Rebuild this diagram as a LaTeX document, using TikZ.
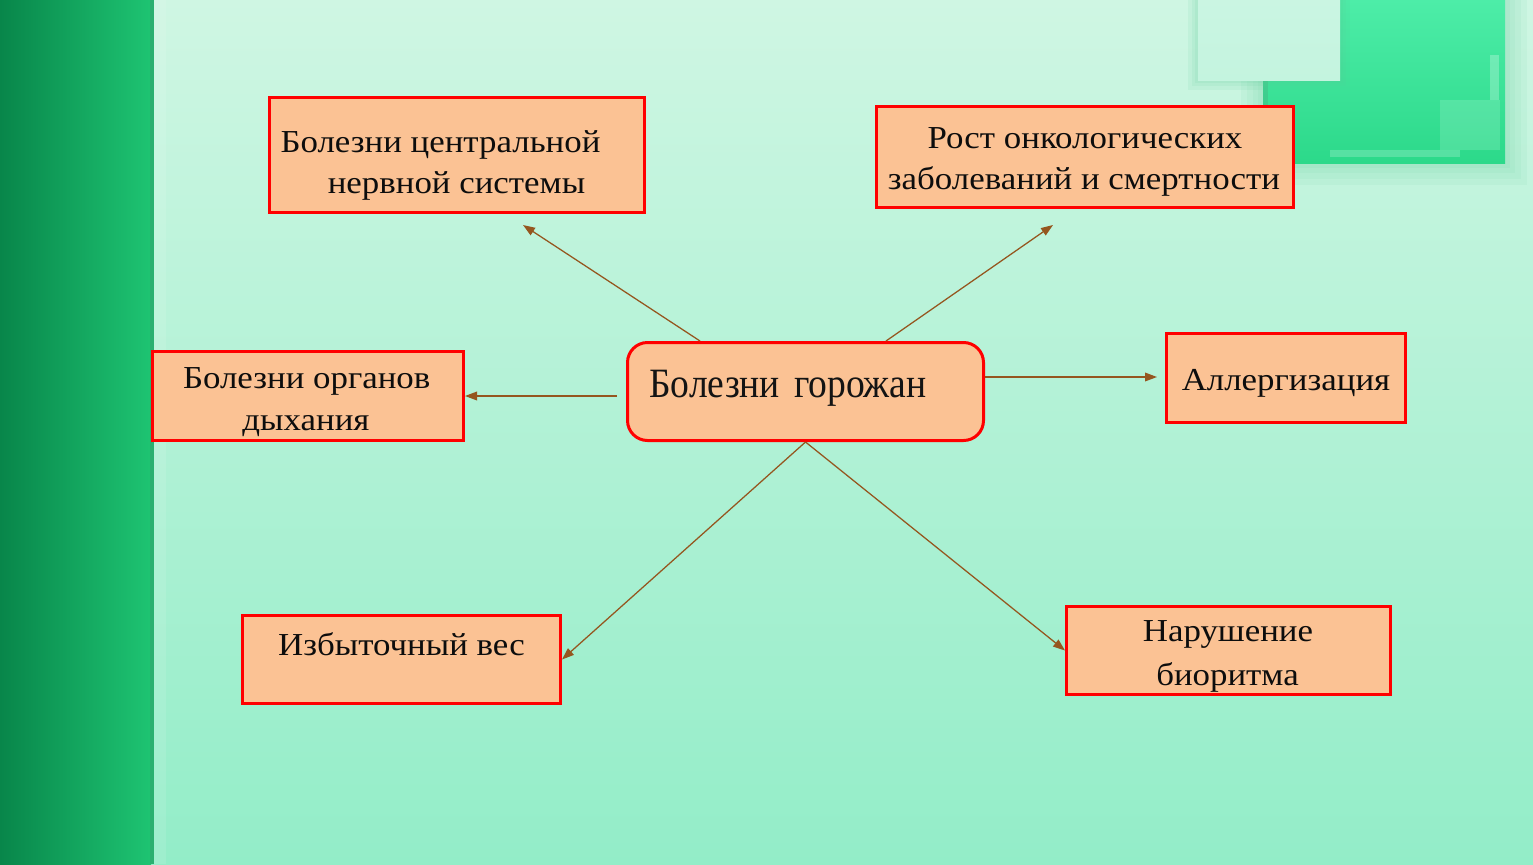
\documentclass[tikz,border=0pt]{standalone}
\usepackage{fontspec}
\setmainfont{Liberation Serif}
\newfontfamily\boxfont[FakeStretch=1.09]{Liberation Serif}
\newfontfamily\centfont[FakeStretch=0.9]{Liberation Serif}
\usetikzlibrary{arrows.meta,calc}
\definecolor{bgtop}{HTML}{CFF6E3}
\definecolor{bgbot}{HTML}{93EDC8}
\definecolor{bandl}{HTML}{08864A}
\definecolor{bandr}{HTML}{1EC472}
\definecolor{bandedge}{HTML}{2AB070}
\definecolor{peach}{HTML}{FBC294}
\definecolor{boxred}{HTML}{FF0000}
\definecolor{arrbrown}{HTML}{95561F}
\definecolor{gtop}{HTML}{4DEDA8}
\definecolor{gbot}{HTML}{2CD98A}
\definecolor{glight}{HTML}{C4F4DF}
\definecolor{glow}{HTML}{5CCB98}
\tikzset{
  box/.style={draw=boxred, fill=peach, line width=2.25pt, rectangle, inner sep=0pt},
  cbox/.style={box, rounded corners=15pt},
  txt/.style={font=\boxfont\fontsize{24}{24}\selectfont, inner sep=0pt, anchor=base, text=black!95},
  ctxt/.style={font=\centfont\fontsize{31.3}{31.3}\selectfont, inner sep=0pt, anchor=base, text=black!92},
  arr/.style={draw=arrbrown, line width=0.95pt, -{Triangle[length=9pt,width=6.5pt]}}
}
\begin{document}
\begin{tikzpicture}[x=0.75pt,y=-0.75pt]
\useasboundingbox (0,0) rectangle (1533,864);
% background
\shade[top color=bgtop, bottom color=bgbot] (0,0) rectangle (1533,864);
\shade[left color=bandl, right color=bandr] (0,0) rectangle (151,864);
\fill[bandedge] (150,0) rectangle (154,864);
\fill[white, opacity=0.1] (154,0) rectangle (166,864);
% top-right decoration
\foreach \g in {22,16,10,5} {
  \fill[glow, opacity=0.08] (1263-\g,0) rectangle (1505+\g,163+\g);
}
\shade[top color=gtop, bottom color=gbot] (1263,0) rectangle (1505,163);
\fill[glow!80!black, opacity=0.3] (1263,80) rectangle (1268,163);
\fill[white, opacity=0.25] (1490,55) rectangle (1499,100);
\fill[white, opacity=0.15] (1440,100) rectangle (1500,150);
\fill[white, opacity=0.2] (1330,150) rectangle (1460,157);
\foreach \g in {10,6,3} {
  \fill[glow, opacity=0.1] (1198-\g,0) rectangle (1340+\g,80+\g);
}
\shade[top color=glight!90!white, bottom color=glight] (1198,0) rectangle (1340,80);
% boxes
\node[box, minimum width=281.25pt, minimum height=86.25pt] (cns) at (457,155) {};
\node[box, minimum width=312.75pt, minimum height=75.75pt] (onco) at (1085,157) {};
\node[box, minimum width=233.25pt, minimum height=66.75pt] (resp) at (308,396) {};
\node[cbox, minimum width=267pt, minimum height=73.5pt] (c) at (805.5,391.5) {};
\node[box, minimum width=179.25pt, minimum height=66.75pt] (allergy) at (1286,378) {};
\node[box, minimum width=238.5pt, minimum height=66pt] (weight) at (401.5,659.5) {};
\node[box, minimum width=243pt, minimum height=66pt] (bio) at (1228.5,650.5) {};
% texts
\node[txt] (cns1) at (440.5,152) {Болезни центральной};
\node[txt] (cns2) at (456.5,193) {нервной системы};
\node[txt] (onco1) at (1085,148) {Рост онкологических};
\node[txt] (onco2) at (1084,189) {заболеваний и смертности};
\node[txt] (resp1) at (306.7,388) {Болезни органов};
\node[txt] (resp2) at (306,430) {дыхания};
\node[ctxt] (ct) at (788,397.5) {Болезни\hspace{10.5pt}горожан};
\node[txt] (all1) at (1286,390) {Аллергизация};
\node[txt] (w1) at (401.5,655) {Избыточный вес};
\node[txt] (bio1) at (1228,641.5) {Нарушение};
\node[txt] (bio2) at (1227.5,685) {биоритма};
% arrows
\draw[arr] ($(c.north west)+(74,0)$) -- ($(cns.south west)+(255,11)$);
\draw[arr] ($(c.north west)+(260,0)$) -- ($(onco.south west)+(178,16)$);
\draw[arr] ($(c.west)+(-9,4.5)$) -- (resp.east);
\draw[arr] ($(c.east)+(0,-14.5)$) -- ($(allergy.west)+(-8,-1)$);
\draw[arr] (c.south) -- (weight.east);
\draw[arr] (c.south) -- (bio.west);
\end{tikzpicture}
\end{document}
